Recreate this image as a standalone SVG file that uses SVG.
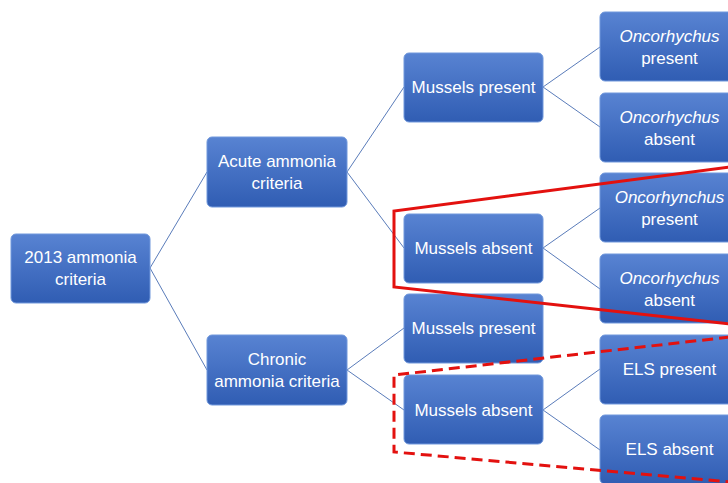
<svg xmlns="http://www.w3.org/2000/svg" width="728" height="483" viewBox="0 0 728 483">
<defs>
<linearGradient id="g" x1="0" y1="0" x2="0" y2="1">
<stop offset="0" stop-color="#5883d2"/>
<stop offset="0.5" stop-color="#4470c3"/>
<stop offset="1" stop-color="#305db3"/>
</linearGradient>
</defs>
<style>
.n{fill:url(#g);stroke:#7098dc;stroke-width:1}
.t{fill:#fff;font-family:"Liberation Sans",Arial,sans-serif;font-size:17px;text-anchor:middle}
.i{font-style:italic}
.c{stroke:#5a7cba;stroke-width:1;fill:none}
.r{stroke:#e3110f;stroke-width:3;fill:none}
.d{stroke:#e3110f;stroke-width:3;fill:none;stroke-dasharray:11 6}
</style>
<rect width="728" height="483" fill="#fff"/>
<g id="connectors">
<path class="c" d="M150 268L207 172M150 268L207 370M347 172L404 87M347 172L404 248M347 370L404 328M347 370L404 410M543 87L600 47M543 87L600 127M543 248L600 208M543 248L600 289M543 410L600 369M543 410L600 450"/>
</g>
<g id="root"><rect class="n" x="11" y="234" width="139" height="69" rx="5"/><text class="t" x="80.5" y="263">2013 ammonia</text><text class="t" x="80.5" y="285">criteria</text></g>
<g id="acute"><rect class="n" x="207" y="137" width="140" height="70" rx="5"/><text class="t" x="277" y="167">Acute ammonia</text><text class="t" x="277" y="189">criteria</text></g>
<g id="chronic"><rect class="n" x="207" y="335" width="140" height="70" rx="5"/><text class="t" x="277" y="365">Chronic</text><text class="t" x="277" y="387">ammonia criteria</text></g>
<g id="acute-mussels-present"><rect class="n" x="404" y="53" width="139" height="69" rx="5"/><text class="t" x="473.5" y="93">Mussels present</text></g>
<g id="acute-mussels-absent"><rect class="n" x="404" y="214" width="139" height="69" rx="5"/><text class="t" x="473.5" y="254">Mussels absent</text></g>
<g id="chronic-mussels-present"><rect class="n" x="404" y="294" width="139" height="69" rx="5"/><text class="t" x="473.5" y="334">Mussels present</text></g>
<g id="chronic-mussels-absent"><rect class="n" x="404" y="375" width="139" height="69" rx="5"/><text class="t" x="473.5" y="416">Mussels absent</text></g>
<g id="onc-present-1"><rect class="n" x="600" y="12" width="139" height="69" rx="5"/><text class="t i" x="669.5" y="42">Oncorhychus</text><text class="t" x="669.5" y="64">present</text></g>
<g id="onc-absent-1"><rect class="n" x="600" y="93" width="139" height="69" rx="5"/><text class="t i" x="669.5" y="123">Oncorhychus</text><text class="t" x="669.5" y="145">absent</text></g>
<g id="onc-present-2"><rect class="n" x="600" y="173" width="139" height="69" rx="5"/><text class="t i" x="669.5" y="203">Oncorhynchus</text><text class="t" x="669.5" y="225">present</text></g>
<g id="onc-absent-2"><rect class="n" x="600" y="254" width="139" height="69" rx="5"/><text class="t i" x="669.5" y="284">Oncorhychus</text><text class="t" x="669.5" y="306">absent</text></g>
<g id="els-present"><rect class="n" x="600" y="335" width="139" height="69" rx="5"/><text class="t" x="669.5" y="375">ELS present</text></g>
<g id="els-absent"><rect class="n" x="600" y="415" width="139" height="69" rx="5"/><text class="t" x="669.5" y="455">ELS absent</text></g>
<g id="highlights">
<polyline class="r" points="730,167 394,211 394,287 730,324"/>
<polyline class="d" points="730,337 394,375 394,452 730,482"/>
</g>
</svg>
